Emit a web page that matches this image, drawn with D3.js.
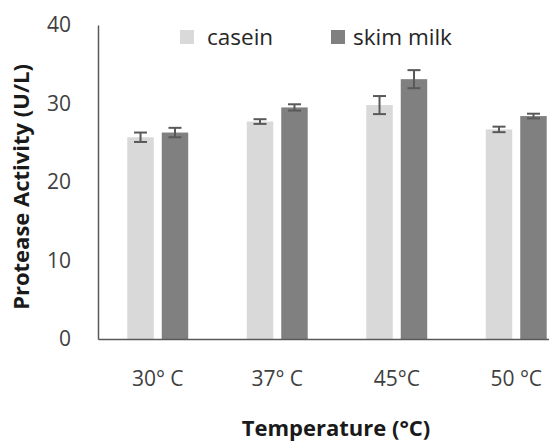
<!DOCTYPE html>
<html>
<head>
<meta charset="utf-8">
<script src="https://cdn.jsdelivr.net/npm/d3@7"></script>
<style>
  html, body { margin: 0; padding: 0; background: #fff; }
  svg { display: block; font-family: "Open Sans", "Noto Sans", sans-serif; }
</style>
</head>
<body>
<svg id="chart" width="549" height="443"></svg>
<script>
const categories = ["30° C", "37° C", "45°C", "50 °C"];
const seriesNames = ["casein", "skim milk"];
const caseinValues = [25.7, 27.7, 29.8, 26.7];
const caseinErrors = [0.6, 0.3, 1.15, 0.35];
const skimValues = [26.3, 29.5, 33.1, 28.4];
const skimErrors = [0.6, 0.4, 1.15, 0.3];
const yTicks = [0, 10, 20, 30, 40];
const colors = ["#d9d9d9", "#808080"];

(function () {
const svg = d3.select("#chart");
const mLeft = 98, mRight = 576, mTop = 25, mBottom = 339;

const x = d3.scaleBand().domain(categories).range([mLeft, mRight]).paddingInner(0.49).paddingOuter(0.245);
const xs = d3.scaleBand().domain(seriesNames).range([0, x.bandwidth()]).paddingInner(0.232).paddingOuter(0);
const y = d3.scaleLinear().domain([0, 40]).range([mBottom, mTop]);

const data = categories.map((c, i) => ({
  cat: c,
  vals: [
    {s: seriesNames[0], v: caseinValues[i], e: caseinErrors[i]},
    {s: seriesNames[1], v: skimValues[i], e: skimErrors[i]}
  ]
}));

const g = svg.append("g");
const groups = g.selectAll("g.grp").data(data).join("g")
  .attr("transform", d => `translate(${x(d.cat)},0)`);

groups.selectAll("rect").data(d => d.vals).join("rect")
  .attr("x", d => xs(d.s))
  .attr("width", xs.bandwidth())
  .attr("y", d => y(d.v))
  .attr("height", d => y(0) - y(d.v))
  .attr("fill", (d, i) => colors[i]);

// error bars
const capW = 13;
const eb = groups.selectAll("g.err").data(d => d.vals).join("g").attr("class", "err")
  .attr("stroke", "#595959").attr("stroke-width", 2).attr("fill", "none");
eb.append("line")
  .attr("x1", d => xs(d.s) + xs.bandwidth() / 2).attr("x2", d => xs(d.s) + xs.bandwidth() / 2)
  .attr("y1", d => y(d.v + d.e)).attr("y2", d => y(d.v - d.e));
eb.append("line")
  .attr("x1", d => xs(d.s) + xs.bandwidth() / 2 - capW / 2).attr("x2", d => xs(d.s) + xs.bandwidth() / 2 + capW / 2)
  .attr("y1", d => y(d.v + d.e)).attr("y2", d => y(d.v + d.e));
eb.append("line")
  .attr("x1", d => xs(d.s) + xs.bandwidth() / 2 - capW / 2).attr("x2", d => xs(d.s) + xs.bandwidth() / 2 + capW / 2)
  .attr("y1", d => y(d.v - d.e)).attr("y2", d => y(d.v - d.e));

// y axis
const yAxis = d3.axisLeft(y).tickValues(yTicks).tickSize(0).tickPadding(27);
const ya = svg.append("g").attr("transform", `translate(${mLeft},0)`).call(yAxis);
ya.select(".domain").attr("stroke", "#595959").attr("stroke-width", 1.5);
ya.selectAll("text").attr("font-size", 21).attr("fill", "#404040")
  .attr("font-family", "'Open Sans', sans-serif");

// x axis
const xAxis = d3.axisBottom(x).tickSize(0).tickPadding(32);
const xa = svg.append("g").attr("transform", `translate(0,${mBottom})`).call(xAxis);
xa.select(".domain").attr("stroke", "#595959").attr("stroke-width", 1.5);
xa.selectAll("text").attr("font-size", 21).attr("fill", "#404040")
  .attr("font-family", "'Open Sans', sans-serif");

// axis titles
svg.append("text")
  .attr("transform", `translate(29,187) rotate(-90)`)
  .attr("text-anchor", "middle")
  .attr("font-size", 22).attr("font-weight", "bold").attr("fill", "#1a1a1a")
  .text("Protease Activity (U/L)");
svg.append("text")
  .attr("x", 336).attr("y", 436)
  .attr("text-anchor", "middle")
  .attr("font-size", 22).attr("font-weight", "bold").attr("fill", "#1a1a1a")
  .text("Temperature (°C)");

// legend
const legendX = [180, 331];
const lg = svg.selectAll("g.leg").data(seriesNames).join("g")
  .attr("transform", (d, i) => `translate(${legendX[i]},30)`);
lg.append("rect").attr("width", 14).attr("height", 14).attr("fill", (d, i) => colors[i]);
lg.append("text").attr("x", (d, i) => i === 0 ? 27 : 22).attr("y", 15)
  .attr("font-size", 22.5).attr("fill", "#262626")
  .text(d => d);
})();
</script>
</body>
</html>
